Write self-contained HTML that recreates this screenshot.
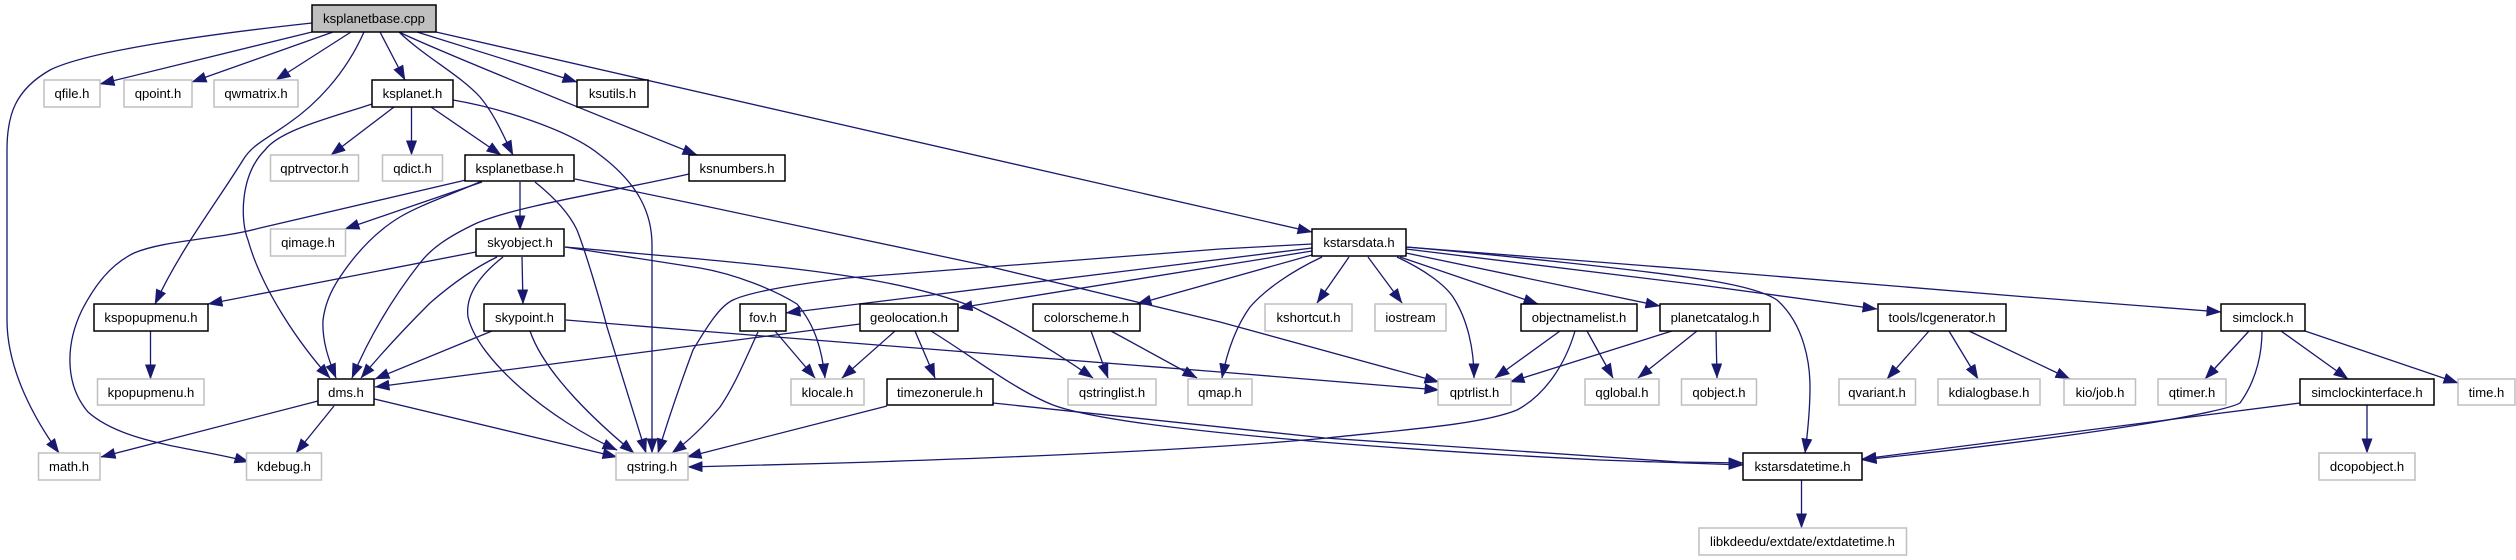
<!DOCTYPE html>
<html><head><meta charset="utf-8"><style>
html,body{margin:0;padding:0;background:#fff}
svg{display:block}
text{font-family:"Liberation Sans",sans-serif;font-size:13.1px;text-anchor:middle;fill:#000}
.b rect{fill:#fff;stroke:#000;stroke-width:1.5}
.g rect{fill:#fff;stroke:#bfbfbf;stroke-width:1.5}
.e path{fill:none;stroke:#191970;stroke-width:1.3;marker-end:url(#a)}
</style></head><body>
<svg width="2516" height="560" viewBox="0 0 2516 560" xmlns="http://www.w3.org/2000/svg">
<defs><marker id="a" markerUnits="userSpaceOnUse" markerWidth="16" markerHeight="12" refX="14.5" refY="5.5" orient="auto"><path d="M0,0L15,5.5L0,11z" fill="#191970"/></marker></defs>
<rect width="2516" height="560" fill="#fff"/>
<g class="e">
<path d="M312,23C220,33 90,50 50,70C15,90 7,115 7,150L7,320C7,370 35,420 59,453"/>
<path d="M312,32L100,84"/>
<path d="M333,32L192,82"/>
<path d="M351,32L276,80"/>
<path d="M364,32C345,75 315,105 289,123C265,140 252,145 243,160C215,205 180,250 155,304"/>
<path d="M380,32L405,80"/>
<path d="M399,32C425,57 460,75 480,97C495,115 503,135 513,155"/>
<path d="M399,32Q440,52 697,155"/>
<path d="M417,32L577,82"/>
<path d="M436,32L1312,232"/>
<path d="M372,104C330,118 280,130 265,150C240,175 240,220 248,240C262,290 300,345 330,378"/>
<path d="M394,107L331,155"/>
<path d="M411.5,107L411.5,155"/>
<path d="M431,107L501,155"/>
<path d="M453,100C500,108 570,130 600,155C640,185 652,215 652,245L652,453"/>
<path d="M466,180L260,228C215,240 165,240 134,253C110,265 95,285 82,310C65,345 65,385 88,412C125,445 200,448 249,462"/>
<path d="M482,182L345,229"/>
<path d="M482,181C450,195 420,205 400,217C370,235 350,262 340,277C330,292 325,305 323,320C322,340 328,358 336,378"/>
<path d="M520,182L520,230"/>
<path d="M535,182C555,198 570,215 577,230C585,250 600,300 607,327L646,453"/>
<path d="M575,179L700,205L983,265L1220,322L1439,382"/>
<path d="M689,174C620,190 520,205 477,223C445,238 430,250 420,263C395,295 370,335 352,378"/>
<path d="M476,252L208,304"/>
<path d="M497,257C470,270 445,290 430,303C405,328 380,355 361,378"/>
<path d="M503,257C480,275 465,295 468,317C478,360 550,420 617,450"/>
<path d="M522,257L523,304"/>
<path d="M565,247L700,268C735,274 775,290 797,304C815,325 822,350 825,378"/>
<path d="M565,247L700,259C780,267 900,277 973,307C1020,330 1060,355 1093,378"/>
<path d="M150.5,331L150.5,379"/>
<path d="M492,331L375,379"/>
<path d="M530,331C545,375 600,425 634,453"/>
<path d="M566,320L700,331L1220,372L1439,390"/>
<path d="M318,401L101,457"/>
<path d="M334,406L296,453"/>
<path d="M374.5,399L617,457"/>
<path d="M775,331L815,378"/>
<path d="M758,332C745,360 735,385 720,407C705,425 690,440 672,453"/>
<path d="M860,324L375,387"/>
<path d="M895,331L842,378"/>
<path d="M915,331L935,378"/>
<path d="M931,331C970,355 1015,390 1053,405C1120,430 1400,450 1600,460L1743,465"/>
<path d="M887,406L687,457"/>
<path d="M993,403L1325,438L1680,462L1743,463"/>
<path d="M1091,331L1108,378"/>
<path d="M1111,331L1197,378"/>
<path d="M1312,244L1220,249L847,278C790,285 750,292 733,300C720,306 708,325 693,350C680,385 668,420 658,453"/>
<path d="M1312,248L786,313"/>
<path d="M1312,251L958,308"/>
<path d="M1312,255L1137,304"/>
<path d="M1322,257C1290,272 1265,290 1250,307C1235,328 1227,352 1222,378"/>
<path d="M1349,257L1317,303"/>
<path d="M1368,257L1402,303"/>
<path d="M1397,257C1425,270 1445,285 1453,297C1468,320 1474,350 1474,378"/>
<path d="M1400,257L1538,304"/>
<path d="M1406,253L1660,306"/>
<path d="M1406,247C1500,255 1640,270 1700,279C1740,285 1765,292 1777,300C1805,325 1810,365 1810,387C1810,410 1808,430 1805,453"/>
<path d="M1406,249L1700,285L1877,309"/>
<path d="M1406,247L1700,270L2027,297L2221,312"/>
<path d="M1560,331L1495,378"/>
<path d="M1587,331L1613,378"/>
<path d="M1575,331C1565,365 1545,395 1517,410C1480,425 1400,430 1327,438C1200,450 1000,458 840,463L688,467"/>
<path d="M1672,331L1510,382"/>
<path d="M1697,331L1638,378"/>
<path d="M1716,331L1717,378"/>
<path d="M1929,331L1887,379"/>
<path d="M1949,331L1978,379"/>
<path d="M1969,331L2070,379"/>
<path d="M2249,331L2205,379"/>
<path d="M2262,331C2262,350 2258,378 2240,403C2225,412 2100,435 1862,460"/>
<path d="M2281,331L2348,379"/>
<path d="M2305,331L2458,383"/>
<path d="M2300,403L1862,459"/>
<path d="M2367,405L2367,453"/>
<path d="M1801.5,480L1801.5,528"/>
</g>
<g class="b">
<rect x="312" y="5" width="124" height="27" style="fill:#bfbfbf"/><text x="374" y="23">ksplanetbase.cpp</text>
<rect x="372" y="80" width="81" height="27"/><text x="412.5" y="98">ksplanet.h</text>
<rect x="577" y="80" width="71" height="27"/><text x="612.5" y="98">ksutils.h</text>
<rect x="465" y="155" width="109" height="26"/><text x="519.5" y="173">ksplanetbase.h</text>
<rect x="689" y="155" width="96" height="26"/><text x="737" y="173">ksnumbers.h</text>
<rect x="476" y="229" width="88" height="27"/><text x="520" y="247">skyobject.h</text>
<rect x="1312" y="229" width="94" height="27"/><text x="1359" y="247">kstarsdata.h</text>
<rect x="94" y="304" width="114" height="27"/><text x="151" y="322">kspopupmenu.h</text>
<rect x="484" y="304" width="81" height="27"/><text x="524.5" y="322">skypoint.h</text>
<rect x="740" y="304" width="46" height="27"/><text x="763" y="322">fov.h</text>
<rect x="860" y="304" width="98" height="27"/><text x="909" y="322">geolocation.h</text>
<rect x="1033" y="304" width="107" height="27"/><text x="1086.5" y="322">colorscheme.h</text>
<rect x="1521" y="304" width="116" height="27"/><text x="1579" y="322">objectnamelist.h</text>
<rect x="1660" y="304" width="110" height="27"/><text x="1715" y="322">planetcatalog.h</text>
<rect x="1878" y="304" width="128" height="27"/><text x="1942" y="322">tools/lcgenerator.h</text>
<rect x="2221" y="304" width="84" height="27"/><text x="2263" y="322">simclock.h</text>
<rect x="318" y="379" width="56" height="26"/><text x="346" y="397">dms.h</text>
<rect x="887" y="379" width="106" height="26"/><text x="940" y="397">timezonerule.h</text>
<rect x="2300" y="379" width="134" height="26"/><text x="2367" y="397">simclockinterface.h</text>
<rect x="1743" y="453" width="119" height="27"/><text x="1802.5" y="471">kstarsdatetime.h</text>
</g>
<g class="g">
<rect x="44" y="80" width="56" height="27"/><text x="72" y="98">qfile.h</text>
<rect x="124" y="80" width="68" height="27"/><text x="158" y="98">qpoint.h</text>
<rect x="214" y="80" width="84" height="27"/><text x="256" y="98">qwmatrix.h</text>
<rect x="270.5" y="155" width="88" height="26"/><text x="314.5" y="173">qptrvector.h</text>
<rect x="382.5" y="155" width="60" height="26"/><text x="412.5" y="173">qdict.h</text>
<rect x="270.5" y="229" width="75" height="27"/><text x="308" y="247">qimage.h</text>
<rect x="1265" y="304" width="87" height="27"/><text x="1308.5" y="322">kshortcut.h</text>
<rect x="1375" y="304" width="71" height="27"/><text x="1410.5" y="322">iostream</text>
<rect x="97.5" y="379" width="106.5" height="26"/><text x="151" y="397">kpopupmenu.h</text>
<rect x="791" y="379" width="73" height="26"/><text x="827.5" y="397">klocale.h</text>
<rect x="1068" y="379" width="88" height="26"/><text x="1112" y="397">qstringlist.h</text>
<rect x="1188" y="379" width="64" height="26"/><text x="1220" y="397">qmap.h</text>
<rect x="1438" y="379" width="73" height="26"/><text x="1474.5" y="397">qptrlist.h</text>
<rect x="1585" y="379" width="74" height="26"/><text x="1622" y="397">qglobal.h</text>
<rect x="1681.5" y="379" width="75" height="26"/><text x="1719" y="397">qobject.h</text>
<rect x="1839" y="379" width="76.5" height="26"/><text x="1877" y="397">qvariant.h</text>
<rect x="1938" y="379" width="102" height="26"/><text x="1989" y="397">kdialogbase.h</text>
<rect x="2064" y="379" width="71.5" height="26"/><text x="2100" y="397">kio/job.h</text>
<rect x="2158" y="379" width="68" height="26"/><text x="2192" y="397">qtimer.h</text>
<rect x="2458" y="379" width="57" height="26"/><text x="2486.5" y="397">time.h</text>
<rect x="38.5" y="453" width="61.5" height="27"/><text x="69" y="471">math.h</text>
<rect x="246.5" y="453" width="75" height="27"/><text x="284" y="471">kdebug.h</text>
<rect x="616" y="453" width="72" height="27"/><text x="652" y="471">qstring.h</text>
<rect x="2319" y="453" width="96" height="27"/><text x="2367" y="471">dcopobject.h</text>
<rect x="1699" y="528" width="207.5" height="27"/><text x="1802.5" y="546">libkdeedu/extdate/extdatetime.h</text>
</g>
</svg>
</body></html>
